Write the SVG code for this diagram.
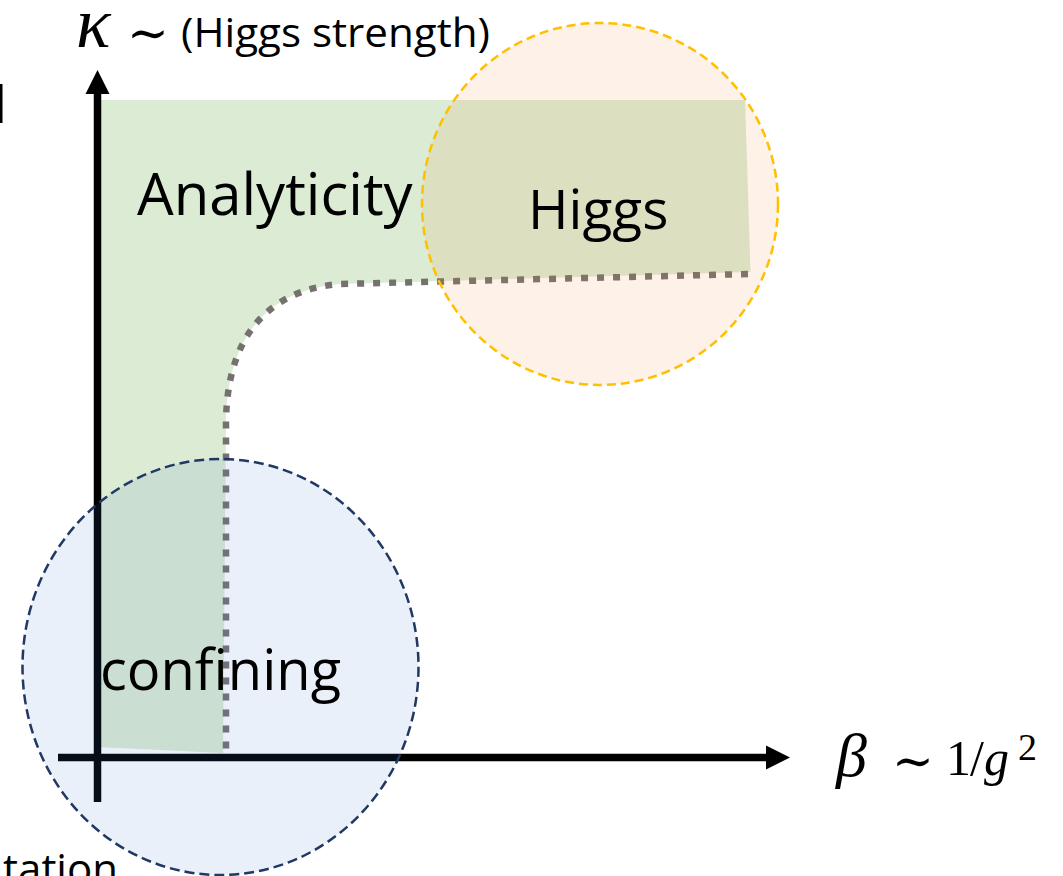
<svg xmlns="http://www.w3.org/2000/svg" width="1063" height="876" viewBox="0 0 1063 876">
  <style>
    .lbl { font-family: "Open Sans", "Liberation Sans", sans-serif; fill: #000; }
    .math { font-family: "Liberation Serif", "DejaVu Serif", serif; font-style: italic; fill: #000; }
    .mathr { font-family: "Liberation Serif", "DejaVu Serif", serif; fill: #000; }
    .sym { font-family: "DejaVu Serif", serif; fill: #000; }
    .axis { stroke: #000; stroke-width: 7.5; fill: none; }
    .boundary { stroke: #767171; stroke-width: 6.5; stroke-dasharray: 7 9; fill: none; }
  </style>
  <rect width="1063" height="876" fill="#fff"/>

  <g id="analyticity-region">
    <path d="M97,100 L745,100 L750.5,272 L340,284 C265,290 226,340 226,425 L223,753 L97,747 Z" fill="#DCEBD4"/>
  </g>

  <g id="connectors">
    <path class="boundary" d="M748,274 L340,284 C265,290 226,340 226,425 L226,760"/>
    <line class="axis" x1="97.5" y1="92" x2="97.5" y2="802"/>
    <polygon points="97.5,70 109.5,94 85.5,94" fill="#000"/>
    <line class="axis" x1="58" y1="757.5" x2="768" y2="757.5"/>
    <polygon points="790,757.5 766,745.5 766,769.5" fill="#000"/>
  </g>

  <g id="higgs-node">
    <ellipse cx="600" cy="204" rx="178" ry="181" fill="#ED7D31" fill-opacity="0.11" stroke="#FFC000" stroke-width="2.5" stroke-dasharray="9 5"/>
    <text class="lbl" x="528" y="229" font-size="55">Higgs</text>
  </g>

  <g id="confining-node">
    <ellipse cx="220.5" cy="667" rx="198" ry="208" fill="#4472C4" fill-opacity="0.11" stroke="#203864" stroke-width="2.5" stroke-dasharray="10 5"/>
    <text class="lbl" x="100" y="690" font-size="56">confining</text>
  </g>

  <g id="analyticity-label">
    <text class="lbl" x="137" y="215" font-size="58">Analyticity</text>
  </g>

  <g id="kappa-axis-label">
    <text class="math" x="76" y="47" font-size="72">κ</text>
    <text class="sym" x="127" y="50" font-size="50">∼</text>
    <text class="lbl" x="181" y="47" font-size="41" textLength="309" lengthAdjust="spacingAndGlyphs">(Higgs strength)</text>
  </g>

  <g id="beta-axis-label">
    <text class="math" x="836" y="776" font-size="62">β</text>
    <text class="sym" x="892" y="778" font-size="50">∼</text>
    <text class="mathr" x="946" y="775" font-size="50">1</text>
    <text class="mathr" x="970" y="775" font-size="50">/</text>
    <text class="math" x="984" y="775" font-size="50">g</text>
    <text class="mathr" x="1018" y="760" font-size="38">2</text>
  </g>

  <g id="edge-fragments">
    <rect x="0" y="84" width="2.5" height="39" fill="#000"/>
    <text class="lbl" x="118" y="884" font-size="42" text-anchor="end">ntation</text>
  </g>
</svg>
